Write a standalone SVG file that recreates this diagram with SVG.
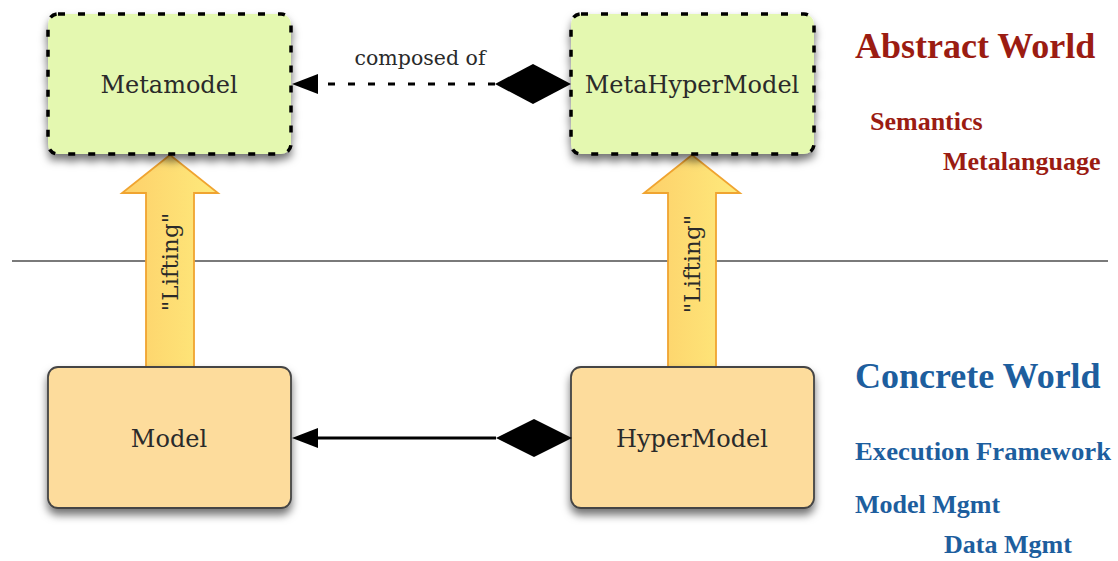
<svg xmlns="http://www.w3.org/2000/svg" width="1118" height="561" viewBox="0 0 1118 561">
  <defs>
    <filter id="shadow" x="-10%" y="-10%" width="120%" height="135%">
      <feDropShadow dx="0" dy="6" stdDeviation="4" flood-color="#000" flood-opacity="0.55"/>
    </filter>
    <linearGradient id="liftFill" x1="0" y1="0" x2="1" y2="0">
      <stop offset="0" stop-color="#fdd06a"/>
      <stop offset="1" stop-color="#feea7c"/>
    </linearGradient>
  </defs>
  <style>
    .meta { fill: #e4f8b0; stroke: #000; stroke-width: 3.5; stroke-dasharray: 7 13; filter: url(#shadow); }
    .concrete { fill: #fddc9c; stroke: #444; stroke-width: 1.8; filter: url(#shadow); }
    .label { font-family: "DejaVu Serif", serif; font-size: 24px; fill: #2a2a2a; text-anchor: middle; }
    .lift { fill: url(#liftFill); stroke: #f0a430; stroke-width: 1.8; stroke-linejoin: miter; }
    .liftText { font-family: "DejaVu Serif", serif; font-size: 23px; fill: #2a2a2a; text-anchor: middle; }
    .conn { fill: none; stroke: #000; stroke-width: 3; }
    .head { fill: #000; }
    .connText { font-family: "DejaVu Serif", serif; font-size: 20.5px; fill: #2a2a2a; text-anchor: middle; }
    .abstract { font-family: "Liberation Serif", serif; font-weight: bold; fill: #9b1c12; }
    .concreteW { font-family: "Liberation Serif", serif; font-weight: bold; fill: #1d5e9e; }
  </style>

  <rect width="1118" height="561" fill="#fff"/>

  <!-- divider between the two worlds -->
  <line x1="12" y1="261" x2="1108" y2="261" stroke="#7a7a7a" stroke-width="2"/>

  <!-- lifting arrows -->
  <g id="lift-model">
    <path class="lift" d="M170,155 L218,193 L194,193 L194,367 L146,367 L146,193 L122,193 Z"/>
    <text class="liftText" transform="translate(178,262) rotate(-90)">"Lifting"</text>
  </g>
  <g id="lift-hypermodel">
    <path class="lift" d="M692,155 L740,193 L716,193 L716,367 L668,367 L668,193 L644,193 Z"/>
    <text class="liftText" transform="translate(700,264) rotate(-90)">"Lifting"</text>
  </g>

  <!-- nodes -->
  <g id="metamodel">
    <rect class="meta" x="48" y="14" width="243" height="140" rx="10"/>
    <text class="label" x="169" y="93">Metamodel</text>
  </g>
  <g id="metahypermodel">
    <rect class="meta" x="571" y="14" width="243" height="140" rx="10"/>
    <text class="label" x="692" y="93">MetaHyperModel</text>
  </g>
  <g id="model">
    <rect class="concrete" x="48" y="367" width="243" height="141" rx="10"/>
    <text class="label" x="169" y="447">Model</text>
  </g>
  <g id="hypermodel">
    <rect class="concrete" x="571" y="367" width="243" height="141" rx="10"/>
    <text class="label" x="692" y="447">HyperModel</text>
  </g>

  <!-- composition connectors: filled diamond at the whole, arrowhead at the part -->
  <g id="connectors">
    <g id="composed-of">
      <line class="conn" x1="495" y1="84" x2="318" y2="84" stroke-dasharray="7 13"/>
      <path class="head" d="M292,84 L318,74 L318,94 Z"/>
      <path class="head" d="M571,84 L533,64 L495,84 L533,104 Z"/>
      <text class="connText" x="420" y="65">composed of</text>
    </g>
    <g id="model-of">
      <line class="conn" x1="496" y1="438" x2="316" y2="438"/>
      <path class="head" d="M292,438 L318,428 L318,448 Z"/>
      <path class="head" d="M572,438 L534,419 L496,438 L534,457 Z"/>
    </g>
  </g>

  <!-- world legends -->
  <g id="abstract-world">
    <text class="abstract" x="855" y="58" font-size="36">Abstract World</text>
    <text class="abstract" x="870" y="130" font-size="26">Semantics</text>
    <text class="abstract" x="943" y="170" font-size="26">Metalanguage</text>
  </g>
  <g id="concrete-world">
    <text class="concreteW" x="855" y="388" font-size="36">Concrete World</text>
    <text class="concreteW" x="855" y="460" font-size="26" textLength="256" lengthAdjust="spacingAndGlyphs">Execution Framework</text>
    <text class="concreteW" x="855" y="513" font-size="26">Model Mgmt</text>
    <text class="concreteW" x="944" y="553" font-size="26">Data Mgmt</text>
  </g>
</svg>
